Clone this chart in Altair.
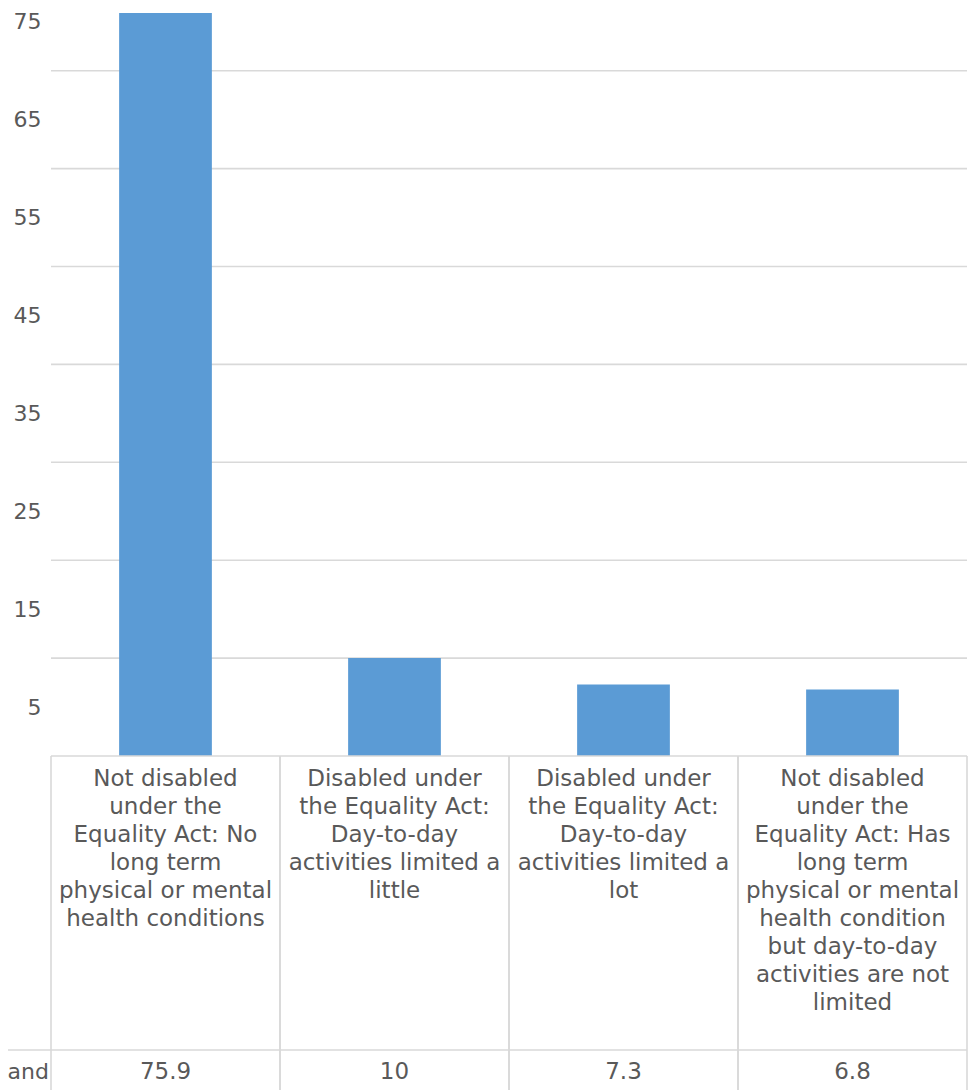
import altair as alt
import pandas as pd

categories = [
    "Not disabled under the Equality Act: No long term physical or mental health conditions",
    "Disabled under the Equality Act: Day-to-day activities limited a little",
    "Disabled under the Equality Act: Day-to-day activities limited a lot",
    "Not disabled under the Equality Act: Has long term physical or mental health condition but day-to-day activities are not limited",
]
wrapped_labels = [
    "Not disabled\nunder the\nEquality Act: No\nlong term\nphysical or mental\nhealth conditions",
    "Disabled under\nthe Equality Act:\nDay-to-day\nactivities limited a\nlittle",
    "Disabled under\nthe Equality Act:\nDay-to-day\nactivities limited a\nlot",
    "Not disabled\nunder the\nEquality Act: Has\nlong term\nphysical or mental\nhealth condition\nbut day-to-day\nactivities are not\nlimited",
]
values = [75.9, 10, 7.3, 6.8]
value_labels = ["75.9", "10", "7.3", "6.8"]
y_label_values = [5, 15, 25, 35, 45, 55, 65, 75]
grid_values = [10, 20, 30, 40, 50, 60, 70]
row_label = ["and"]

FONT = "DejaVu Sans"
TXT = "#595959"
LINE = "#d9d9d9"
W, H = 916, 744

df = pd.DataFrame({"cat": categories, "label": wrapped_labels,
                   "value": values, "vlabel": value_labels})
grid_df = pd.DataFrame({"value": grid_values})
row_df = pd.DataFrame({"t": row_label})

xscale = alt.Scale(domain=categories, paddingInner=0, paddingOuter=0)
yscale = alt.Scale(domain=[0, 76], nice=False, zero=True)
yaxis = alt.Axis(values=y_label_values, grid=False, ticks=False,
                 domain=False, labelFontSize=22, labelColor=TXT,
                 labelFont=FONT, labelPadding=10)

base = alt.Chart(df)

grid = alt.Chart(grid_df).mark_rule(color=LINE, strokeWidth=1.6).encode(
    y=alt.Y("value:Q", scale=yscale, axis=yaxis, title=None),
    x=alt.value(0), x2=alt.value(W),
)

bars = base.mark_bar(color="#5b9bd5", width=alt.RelativeBandSize(0.405)).encode(
    x=alt.X("cat:N", scale=xscale, sort=categories, axis=None),
    y=alt.Y("value:Q", scale=yscale, axis=yaxis, title=None),
)

vlines_left = base.mark_rule(color=LINE, strokeWidth=1.6).encode(
    x=alt.X("cat:N", scale=xscale, sort=categories, axis=None, bandPosition=0),
    y=alt.value(H), y2=alt.value(1090),
)
vlines_right = base.mark_rule(color=LINE, strokeWidth=1.6).encode(
    x=alt.X("cat:N", scale=xscale, sort=categories, axis=None, bandPosition=1),
    y=alt.value(H), y2=alt.value(1090),
)

hline_top = alt.Chart(row_df).mark_rule(color=LINE, strokeWidth=1.6).encode(
    x=alt.value(0), x2=alt.value(W), y=alt.value(H),
)
hline_mid = alt.Chart(row_df).mark_rule(color=LINE, strokeWidth=1.6).encode(
    x=alt.value(-60), x2=alt.value(W), y=alt.value(1038),
)

cat_text = base.mark_text(font=FONT, fontSize=23, color=TXT, lineBreak="\n",
                          lineHeight=28, baseline="alphabetic", align="center").encode(
    x=alt.X("cat:N", scale=xscale, sort=categories, axis=None),
    y=alt.value(774),
    text="label:N",
)

val_text = base.mark_text(font=FONT, fontSize=23, color=TXT,
                          baseline="alphabetic", align="center").encode(
    x=alt.X("cat:N", scale=xscale, sort=categories, axis=None),
    y=alt.value(1067),
    text="vlabel:N",
)

row_text = alt.Chart(row_df).mark_text(font=FONT, fontSize=22, color=TXT,
                                       baseline="alphabetic", align="right").encode(
    x=alt.value(-2), y=alt.value(1067), text="t:N",
)

chart = alt.layer(
    grid, bars, vlines_left, vlines_right, hline_top, hline_mid,
    cat_text, val_text, row_text,
).properties(
    width=W, height=H,
    autosize=alt.AutoSizeParams(type="none"),
    padding={"left": 43, "top": 4, "right": 1, "bottom": 340},
    background="white",
).configure_view(stroke=None)

chart.save("out.html", embed_options={"renderer": "svg", "actions": False})
